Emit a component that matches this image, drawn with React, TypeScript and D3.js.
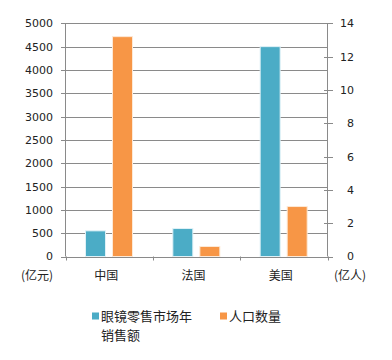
import React from "react";
import * as d3 from "d3";

const categories = ["中国", "法国", "美国"];
const salesValues = [550, 600, 4500];
const populationValues = [13.2, 0.6, 3.0];
const leftTicks = [0, 500, 1000, 1500, 2000, 2500, 3000, 3500, 4000, 4500, 5000];
const rightTicks = [0, 2, 4, 6, 8, 10, 12, 14];
const seriesNames = ["眼镜零售市场年销售额", "人口数量"];

const BLUE = "#4bacc6";
const ORANGE = "#f79646";
const GRID = "#8a8a8a";
const CJK = "'Noto Sans CJK SC', sans-serif";
const NUM = "'DejaVu Sans', sans-serif";

export default function App() {
  const left = 65.5, right = 327.5, top = 23.3, bottom = 256.5;
  const x = d3.scaleBand<string>().domain(categories).range([left, right]).paddingInner(0).paddingOuter(0);
  const yL = d3.scaleLinear().domain([0, 5000]).range([bottom, top]);
  const yR = d3.scaleLinear().domain([0, 14]).range([bottom, top]);
  const inner = d3.scaleBand<string>().domain(["s", "p"]).range([20, 67]).paddingInner(0.26);
  const bw = inner.bandwidth();

  return (
    <svg width={392} height={360} style={{ position: "absolute", left: 0, top: 0, background: "#fff" }}>
      {/* gridlines */}
      {leftTicks.map((t) => (
        <line key={"g" + t} x1={left - 4.5} x2={right} y1={Math.round(yL(t)) + 0.5} y2={Math.round(yL(t)) + 0.5} stroke={GRID} strokeWidth={1} />
      ))}
      {/* left axis */}
      <line x1={left} x2={left} y1={top} y2={bottom} stroke={GRID} />
      {/* right axis */}
      <line x1={right} x2={right} y1={top} y2={bottom} stroke={GRID} />
      {rightTicks.map((t) => (
        <line key={"rt" + t} x1={right - 3.5} x2={right + 5.5} y1={Math.round(yR(t)) + 0.5} y2={Math.round(yR(t)) + 0.5} stroke={GRID} />
      ))}
      {/* bottom category ticks */}
      {[...categories.map((c) => x(c) as number), right].map((v, i) => (
        <line key={"ct" + i} x1={Math.round(v) + 0.5} x2={Math.round(v) + 0.5} y1={bottom} y2={bottom + 4} stroke={GRID} />
      ))}
      {/* bars */}
      {categories.map((c, i) => {
        const x0 = x(c) as number;
        return (
          <g key={"b" + c}>
            <rect x={x0 + (inner("s") as number)} y={yL(salesValues[i])} width={bw} height={bottom - yL(salesValues[i])} fill={BLUE} stroke="#dff1f7" strokeWidth={1} />
            <rect x={x0 + (inner("p") as number)} y={yR(populationValues[i])} width={bw} height={bottom - yR(populationValues[i])} fill={ORANGE} stroke="#fde9d6" strokeWidth={1} />
          </g>
        );
      })}
      {/* left tick labels */}
      {leftTicks.map((t) => (
        <text key={"lt" + t} x={53} y={yL(t)} dy="0.36em" textAnchor="end" fontFamily={NUM} fontSize={11} fill="#222">{t}</text>
      ))}
      {/* right tick labels */}
      {rightTicks.map((t) => (
        <text key={"rl" + t} x={354} y={yR(t)} dy="0.36em" textAnchor="end" fontFamily={NUM} fontSize={11} fill="#222">{t}</text>
      ))}
      {/* category labels */}
      {categories.map((c) => (
        <text key={"cl" + c} x={(x(c) as number) + x.bandwidth() / 2 - 3} y={280} textAnchor="middle" fontFamily={CJK} fontSize={12} fill="#222">{c}</text>
      ))}
      <text x={37} y={280} textAnchor="middle" fontFamily={CJK} fontSize={12} fill="#222">(亿元)</text>
      <text x={350} y={280} textAnchor="middle" fontFamily={CJK} fontSize={12} fill="#222">(亿人)</text>
      {/* legend */}
      <rect x={92} y={312.5} width={7} height={7} fill={BLUE} />
      <text x={101} y={320.5} fontFamily={CJK} fontSize={13} fill="#222">{seriesNames[0].slice(0, 7)}</text>
      <text x={101} y={340} fontFamily={CJK} fontSize={13} fill="#222">{seriesNames[0].slice(7)}</text>
      <rect x={220} y={312.5} width={7} height={7} fill={ORANGE} />
      <text x={229} y={320.5} fontFamily={CJK} fontSize={13} fill="#222">{seriesNames[1]}</text>
    </svg>
  );
}
